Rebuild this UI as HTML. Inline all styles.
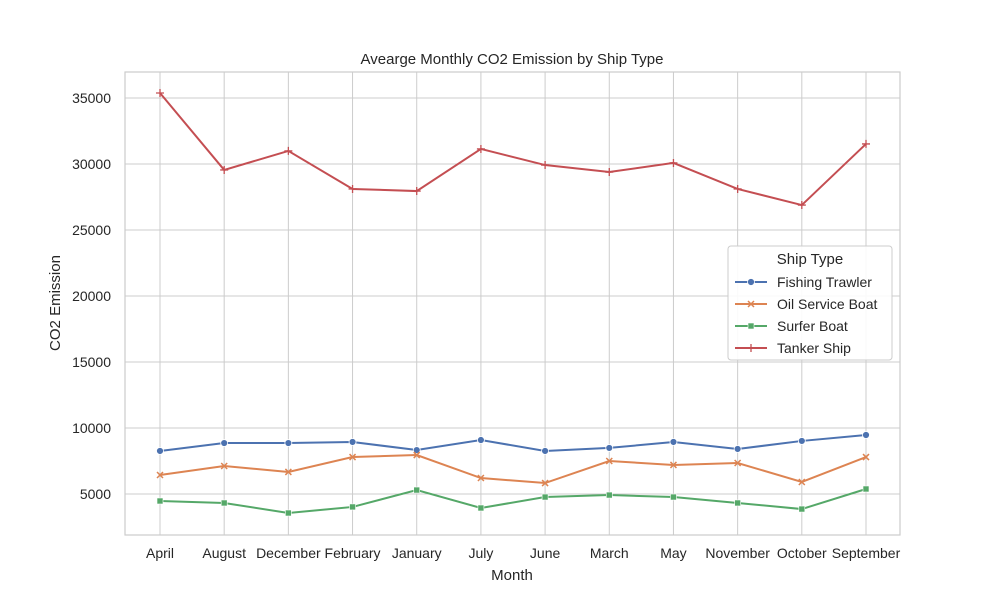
<!DOCTYPE html>
<html><head><meta charset="utf-8"><style>
body{margin:0;background:#fff;font-family:"Liberation Sans","DejaVu Sans",sans-serif;}
svg text{font-family:"Liberation Sans","DejaVu Sans",sans-serif;fill:#262626;}
</style></head><body>
<svg id="chart" width="1000" height="600"></svg>
<script>
const months=["April","August","December","February","January","July","June","March","May","November","October","September"];
const fishing=[8260,8860,8860,8940,8330,9090,8260,8490,8940,8410,9020,9470];
const oil=[6440,7120,6670,7800,7950,6210,5830,7500,7200,7350,5910,7800];
const surfer=[4470,4320,3560,4020,5300,3940,4770,4920,4770,4320,3860,5380];
const tanker=[35380,29550,30990,28110,27950,31140,29920,29390,30080,28110,26890,31520];
const yTicks=[5000,10000,15000,20000,25000,30000,35000];
const seriesNames=["Fishing Trawler","Oil Service Boat","Surfer Boat","Tanker Ship"];
const colors=["#4c72b0","#dd8452","#55a868","#c44e52"];
const NS="http://www.w3.org/2000/svg";
const svg=document.getElementById("chart");
const L=125,R=900,T=72,B=535;
const xS=i=>160+i*(866-160)/(months.length-1);
const yS=v=>560-v*66/5000;
function el(t,a,p){const e=document.createElementNS(NS,t);for(const k in a)e.setAttribute(k,a[k]);(p||svg).appendChild(e);return e;}
const bg=el("rect",{x:L,y:T,width:R-L,height:B-T,fill:"#fff",stroke:"#cccccc","stroke-width":1.2});


yTicks.forEach(v=>{
 const g=el("line",{x1:L,x2:R,y1:yS(v),y2:yS(v),stroke:"#cccccc","stroke-width":1});
 
 
 const t=el("text",{x:L-14,y:yS(v)+5,"text-anchor":"end","font-size":14});t.textContent=v;
 
 
});
months.forEach((m,i)=>{
 const g=el("line",{x1:xS(i),x2:xS(i),y1:T,y2:B,stroke:"#cccccc","stroke-width":1});
 
 
 const t=el("text",{x:xS(i),y:558,"text-anchor":"middle","font-size":14});t.textContent=m;
 
 
});
function marker(type,x,y,c,parent){
 let e;
 if(type==0)e=el("circle",{cx:x,cy:y,r:3.5,fill:c,stroke:"#fff","stroke-width":0.8},parent);
 else if(type==1)e=el("path",{d:`M${x-3},${y-3}L${x+3},${y+3}M${x-3},${y+3}L${x+3},${y-3}`,stroke:c,"stroke-width":1.5},parent);
 else if(type==2)e=el("rect",{x:x-3,y:y-3,width:6,height:6,fill:c,stroke:"#fff","stroke-width":0.6},parent);
 else e=el("path",{d:`M${x-4},${y}L${x+4},${y}M${x},${y-4}L${x},${y+4}`,stroke:c,"stroke-width":1.3},parent);
 return e;
}
[fishing,oil,surfer,tanker].forEach((s,k)=>{
 const g=el("g",{});
 
 
 const p=el("polyline",{points:s.map((v,i)=>xS(i)+","+yS(v)).join(" "),fill:"none",stroke:colors[k],"stroke-width":2},g);
 
 
 s.forEach((v,i)=>{const m=marker(k,xS(i),yS(v),colors[k],g);
  
  });
});
const title=el("text",{x:512,y:64,"text-anchor":"middle","font-size":15});title.textContent="Avearge Monthly CO2 Emission by Ship Type";


const xt=el("text",{x:512,y:580,"text-anchor":"middle","font-size":15});xt.textContent="Month";


const yt=el("text",{x:60,y:303,"text-anchor":"middle","font-size":15,transform:"rotate(-90 60 303)"});yt.textContent="CO2 Emission";


const lg=el("g",{});


el("rect",{x:728,y:246,width:164,height:114,rx:3,fill:"#fff",stroke:"#cccccc","fill-opacity":0.9},lg);
const lt=el("text",{x:810,y:264,"text-anchor":"middle","font-size":15},lg);lt.textContent="Ship Type";
seriesNames.forEach((n,k)=>{
 const y=282+k*22;
 const e=el("g",{},lg);
 
 
 el("line",{x1:735,x2:767,y1:y,y2:y,stroke:colors[k],"stroke-width":2},e);
 marker(k,751,y,colors[k],e);
 const t=el("text",{x:777,y:y+5,"font-size":14},e);t.textContent=n;
});
</script>
</body></html>
